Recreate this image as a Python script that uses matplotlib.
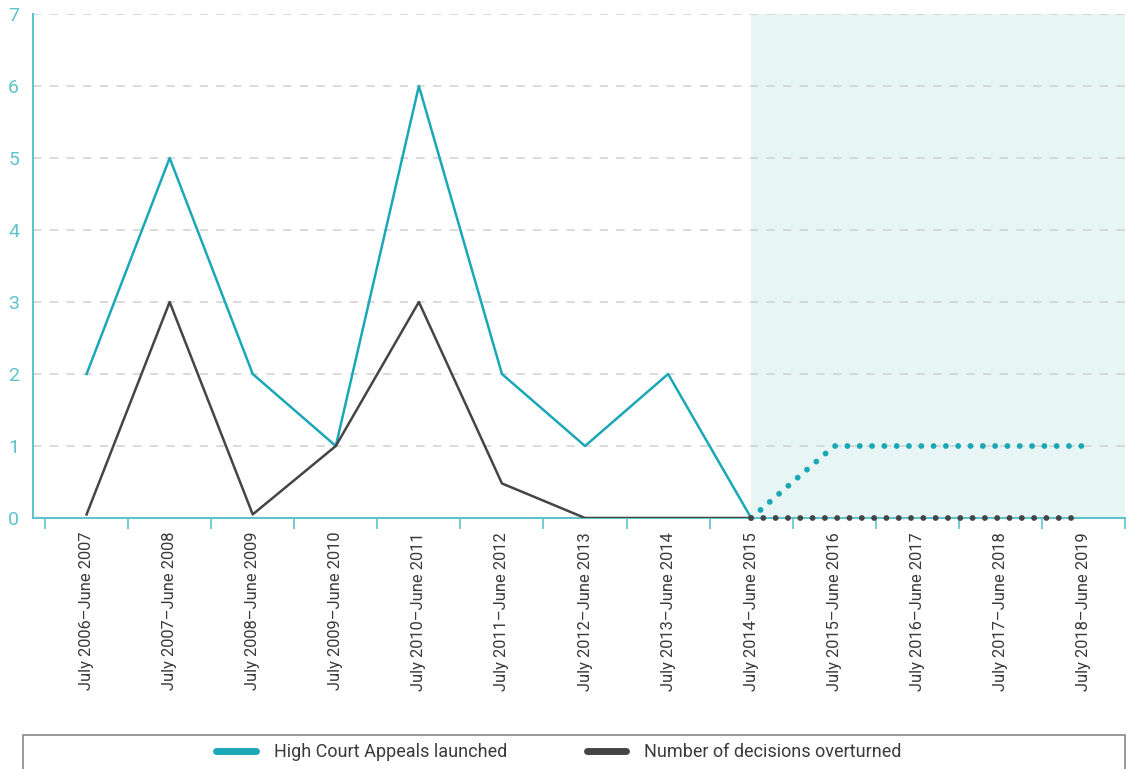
import matplotlib
matplotlib.use("Agg")
import matplotlib.pyplot as plt
from matplotlib.patches import Rectangle
from matplotlib.lines import Line2D

categories = ["July 2006\u2013June 2007", "July 2007\u2013June 2008", "July 2008\u2013June 2009",
              "July 2009\u2013June 2010", "July 2010\u2013June 2011", "July 2011\u2013June 2012",
              "July 2012\u2013June 2013", "July 2013\u2013June 2014", "July 2014\u2013June 2015",
              "July 2015\u2013June 2016", "July 2016\u2013June 2017", "July 2017\u2013June 2018",
              "July 2018\u2013June 2019"]
appeals_actual = [2, 5, 2, 1, 6, 2, 1, 2, 0]
overturned_actual = [0.05, 3, 0.05, 1, 3, 0.48, 0, 0, 0]
appeals_proj = [0, 1, 1, 1, 1]
overturned_proj = [0, 0, 0, 0, 0]
yticks = [0, 1, 2, 3, 4, 5, 6, 7]

TEAL = "#1ba8b6"
DARK = "#454545"
SPINE = "#5fc3cc"
SHADE = "#e8f5f5"

plt.rcParams['font.family'] = ['Roboto', 'DejaVu Sans']

fig = plt.figure(figsize=(11.29, 7.69), dpi=100)
ax = fig.add_axes([33/1129, 1 - 518/769, (1125 - 33)/1129, (518 - 14)/769])

n_act = len(appeals_actual)
x_act = list(range(n_act))
x_proj = list(range(n_act - 1, n_act - 1 + len(appeals_proj)))

ax.axvspan(n_act - 1, len(categories) - 0.5, color=SHADE, zorder=0, lw=0)

for y in yticks[1:]:
    ax.axhline(y, color="#d4d4d4", lw=1.2, ls=(0, (5, 5)), zorder=1)

ax.plot(x_act, appeals_actual, color=TEAL, lw=1.8, zorder=3)
ax.plot(x_act, overturned_actual, color=DARK, lw=1.8, zorder=3)
ax.plot(x_proj, appeals_proj, color=TEAL, lw=4.2, ls=(0, (0.01, 2.1)),
        dash_capstyle='round', zorder=3, clip_on=False)
ax.plot(x_proj, overturned_proj, color=DARK, lw=4.2, ls=(0, (0.01, 2.1)),
        dash_capstyle='round', zorder=6, clip_on=False)

ax.set_xlim(-0.645, len(categories) - 0.5)
ax.set_ylim(0, 7)

ax.set_xticks([i - 0.5 for i in range(len(categories) + 1)])
ax.set_xticklabels([])
ax.set_xticks(range(len(categories)), minor=True)
ax.set_xticklabels(categories, minor=True, rotation=90, fontsize=11.9, color="#3a3a3a")
ax.tick_params(axis='x', which='major', length=8, width=1.2, color=SPINE, direction='out')
ax.tick_params(axis='x', which='minor', length=0, pad=10)

ax.set_yticks(yticks)
ax.set_yticklabels([str(v) for v in yticks], fontsize=14, color=SPINE)
ax.tick_params(axis='y', length=0, pad=10)

for s in ['top', 'right']:
    ax.spines[s].set_visible(False)
for s in ['left', 'bottom']:
    ax.spines[s].set_color(SPINE)
    ax.spines[s].set_linewidth(1.5)
ax.spines['left'].set_zorder(5)
ax.spines['bottom'].set_zorder(2)

fig.patches.append(Rectangle((23/1129, -0.05), (1125 - 23)/1129, 1 - 735/769 + 0.05,
                             transform=fig.transFigure, fill=False, ec="#888888", lw=1.2))
handles = [Line2D([], [], color=TEAL, lw=5, solid_capstyle='round'),
           Line2D([], [], color=DARK, lw=5, solid_capstyle='round')]
fig.legend(handles, ["High Court Appeals launched", "Number of decisions overturned"],
           loc='center', bbox_to_anchor=(559/1129, 1 - 752/769), ncol=2, frameon=False,
           fontsize=13.0, handlelength=2.2, handletextpad=1.0, columnspacing=4.4,
           labelcolor="#3a3a3a")

fig.savefig("out.png", dpi=100)
